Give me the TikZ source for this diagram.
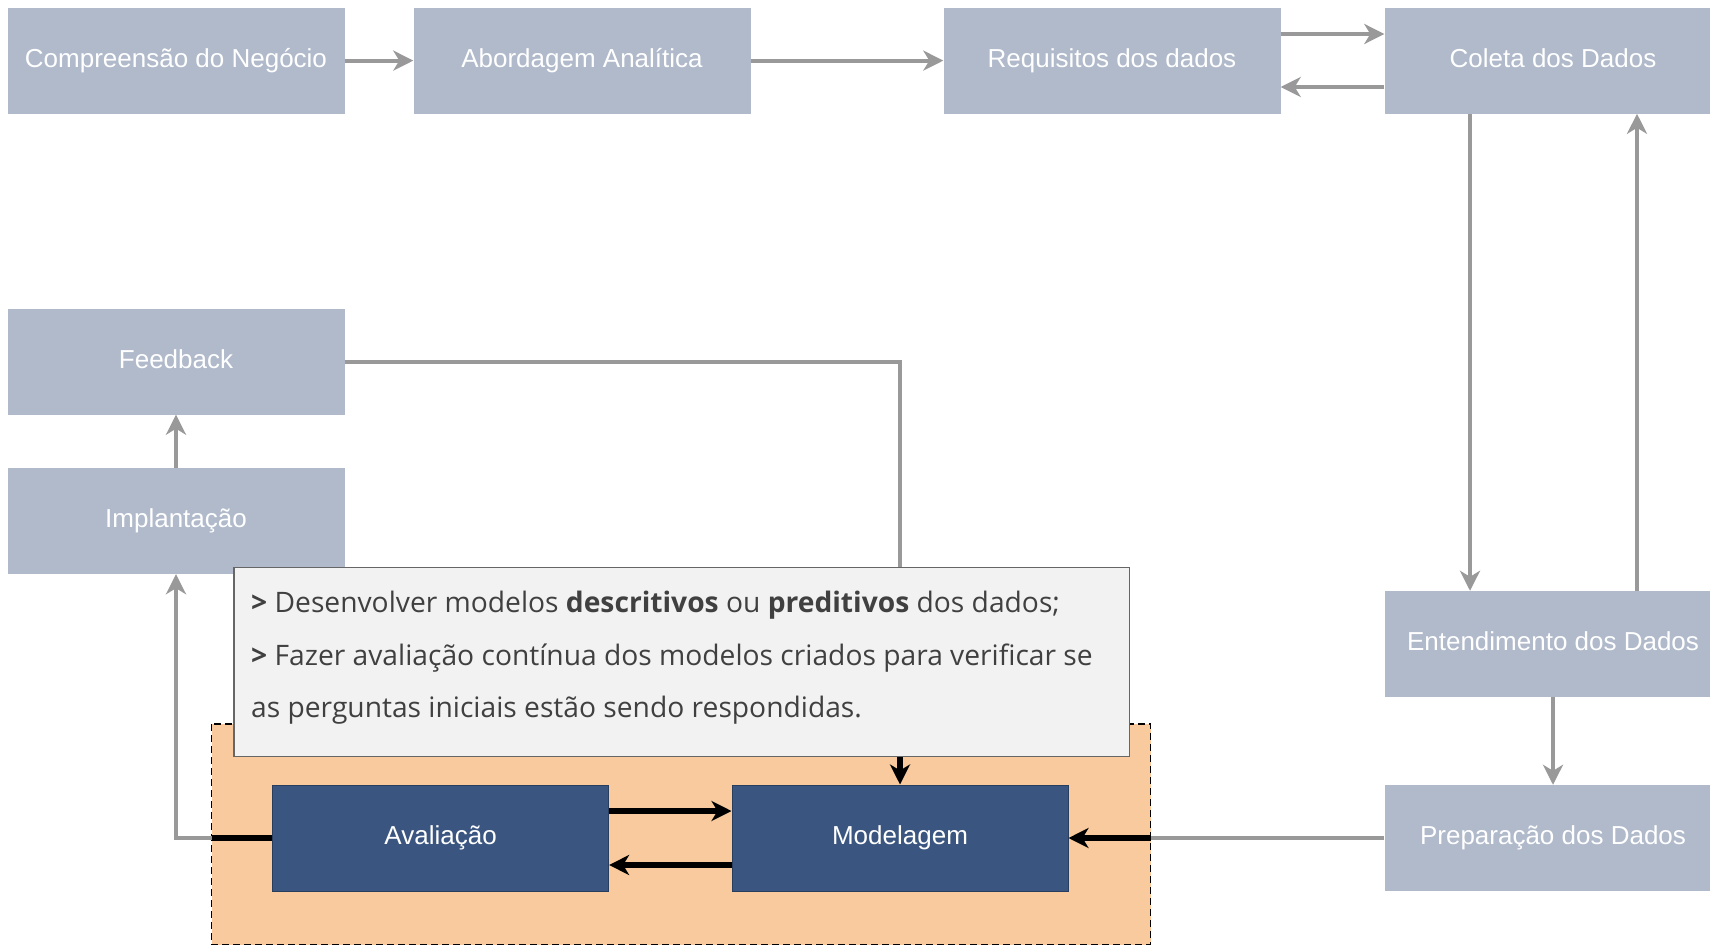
\documentclass[tikz,border=0pt]{standalone}
\usepackage{fontspec}
\setmainfont{Liberation Sans}
\newfontfamily\notefont{Open Sans}
\usetikzlibrary{arrows.meta,calc}
\definecolor{boxgray}{RGB}{176,186,203}
\definecolor{boxblue}{RGB}{58,86,128}
\definecolor{boxblueline}{RGB}{40,62,95}
\definecolor{linegray}{RGB}{153,153,153}
\definecolor{orangefill}{RGB}{248,202,157}
\definecolor{notefill}{RGB}{242,242,242}
\definecolor{noteline}{RGB}{102,102,102}
\definecolor{notetext}{RGB}{64,64,64}
\tikzset{
  x=1pt, y=-1pt,
  stage/.style={fill=boxgray, draw=none, minimum width=337pt, minimum height=106pt,
    inner sep=0pt, text=white, font=\fontsize{26}{30}\selectfont, anchor=center,
    text height=19pt, text depth=5.5pt},
  core/.style={fill=boxblue, draw=boxblueline, line width=1pt, minimum width=336pt, minimum height=106pt,
    inner sep=0pt, text=white, font=\fontsize{26}{30}\selectfont, anchor=center,
    text height=19pt, text depth=5.5pt},
  gline/.style={draw=linegray, line width=4pt, -{Stealth[length=20pt,width=20pt,inset=6pt]}},
  gplain/.style={draw=linegray, line width=4pt},
  bline/.style={draw=black, line width=5.5pt, -{Stealth[length=20pt,width=20pt,inset=6pt]}},
  bplain/.style={draw=black, line width=5.5pt},
}
\begin{document}
\begin{tikzpicture}
\useasboundingbox (0,0) rectangle (1710,947);
\fill[white] (0,0) rectangle (1710,947);

% container
\draw[fill=orangefill, draw=black, line width=1.5pt, dash pattern=on 7pt off 4pt] (211.6,724) rectangle (1150.6,944.5);

% nodes
\node[stage] (comp) at (176,60.6) {Compreensão do Negócio};
\node[stage] (abor) at (582,60.6) {Abordagem Analítica};
\node[stage] (req) at (1112,60.6) {Requisitos dos dados};
\node[stage] (col) at (1553,60.6) {Coleta dos Dados};
\node[stage] (feed) at (176,361.5) {Feedback};
\node[stage] (impl) at (176,521) {Implantação};
\node[stage] (ent) at (1553,644) {Entendimento dos Dados};
\node[stage] (prep) at (1553,838) {Preparação dos Dados};
\node[core] (aval) at (440.6,838) {Avaliação};
\node[core] (mod) at (900,838) {Modelagem};

% connectors top
\draw[gline] (comp.east) -- (abor.west);
\draw[gline] (abor.east) -- (req.west);
\draw[gline] ($(req.east)+(0,-26.6)$) -- ($(col.west)+(0,-26.6)$);
\draw[gline] ($(col.west)+(0,26.4)$) -- ($(req.east)+(0,26.4)$);
\draw[gline] (col.south -| 1470,0) -- (ent.north -| 1470,0);
\draw[gline] (ent.north -| 1637,0) -- (col.south -| 1637,0);
\draw[gline] (ent.south) -- (prep.north);
\draw[gline] (impl.north) -- (feed.south);

% Feedback -> Modelagem (gray part, passes behind the note)
\coordinate (fbturn) at (900,361.5);
\draw[gplain] (feed.east) -- (fbturn) -- (900,724);

% Avaliacao -> Implantacao
\coordinate (avalexit) at (211.6,838);
\draw[gline] (avalexit) -| (impl.south);
\draw[bplain] (aval.west) -- (avalexit);

% Preparacao -> Modelagem
\coordinate (modentry) at (1150.6,838);
\draw[gplain] (prep.west) -- (modentry);
\draw[bline] (modentry) -- (mod.east);

% Avaliacao <-> Modelagem
\draw[bline] ($(aval.east)+(0,-27)$) -- ($(mod.west)+(0,-27)$);
\draw[bline] ($(mod.west)+(0,27)$) -- ($(aval.east)+(0,27)$);

% note
\node[fill=notefill, draw=noteline, line width=1.2pt, minimum width=895.4pt, minimum height=188.8pt,
  inner sep=0pt, anchor=north west] (note) at (233.4,567) {};
\node[anchor=north west, text=notetext, inner sep=0pt, align=left,
  font=\notefont\fontsize{28.2}{52.4}\selectfont] (notetxt) at (251,591) {%
  {\bfseries >} Desenvolver modelos \textbf{descritivos} ou \textbf{preditivos} dos dados;\\
  {\bfseries >} Fazer avaliação contínua dos modelos criados para verificar se\\
  as perguntas iniciais estão sendo respondidas.};

% black end of Feedback -> Modelagem
\draw[bline] (note.south -| mod.north) -- (mod.north);
\end{tikzpicture}
\end{document}
